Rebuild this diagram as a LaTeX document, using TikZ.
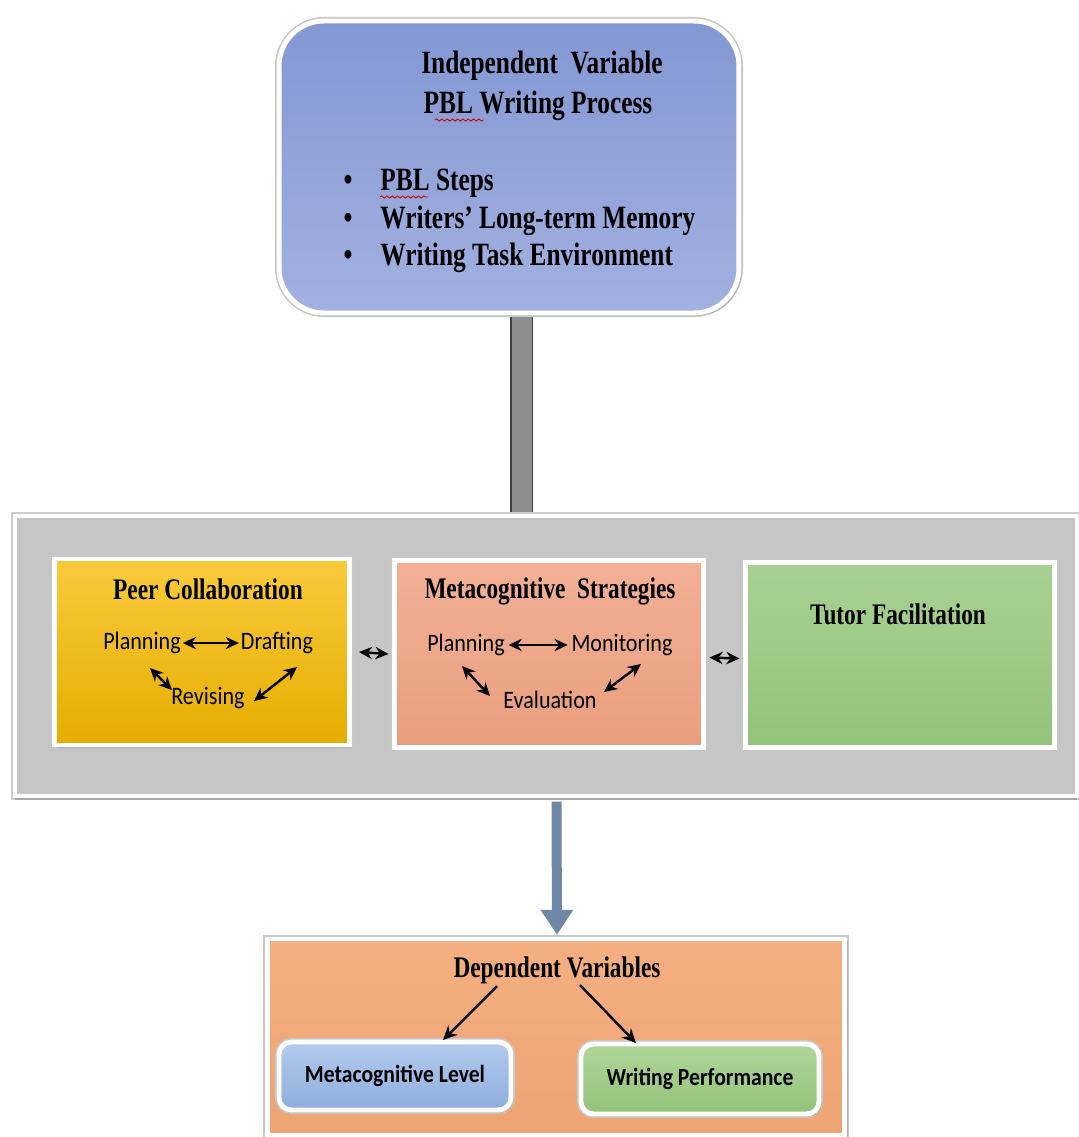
\documentclass[tikz,border=0pt]{standalone}
\usepackage{fontspec}
\setmainfont{Liberation Serif}
\newfontfamily\tfont{Liberation Serif}[FakeStretch=0.78]
\newfontfamily\cfont{Carlito}[FakeStretch=0.88]
\usetikzlibrary{shadows,arrows.meta,backgrounds,calc,decorations.pathmorphing}
\definecolor{topblueA}{HTML}{8497D3}
\definecolor{topblueB}{HTML}{A2B1E0}
\definecolor{panelgray}{HTML}{C6C6C6}
\definecolor{yelA}{HTML}{F9CB3D}
\definecolor{yelB}{HTML}{E6AD00}
\definecolor{salA}{HTML}{F2B095}
\definecolor{salB}{HTML}{E99E7E}
\definecolor{grnA}{HTML}{A8D191}
\definecolor{grnB}{HTML}{94C27B}
\definecolor{orgA}{HTML}{F4AF82}
\definecolor{orgB}{HTML}{EEA473}
\definecolor{mlA}{HTML}{B3CBEE}
\definecolor{mlB}{HTML}{8DAEDC}
\definecolor{wpA}{HTML}{B0D699}
\definecolor{wpB}{HTML}{93C27A}
\definecolor{barfill}{HTML}{8E8E8E}
\definecolor{arrowblue}{HTML}{6F86A6}
\tikzset{
  framed/.style={draw=white, line width=2.8pt,
    preaction={draw=black!22, line width=4.6pt},
    drop shadow={opacity=0.3, shadow xshift=1.5pt, shadow yshift=-1.5pt}},
  titletxt/.style={font=\tfont\bfseries\fontsize{17}{19}\selectfont, inner sep=0pt},
  toptxt/.style={font=\tfont\bfseries\fontsize{18.5}{21}\selectfont, inner sep=0pt},
  lbltxt/.style={font=\cfont\fontsize{14.3}{16}\selectfont, inner sep=0pt},
  boldlbl/.style={font=\cfont\bfseries\fontsize{14}{16}\selectfont, inner sep=0pt},
  dbl/.style={{Stealth[length=7.5pt,width=7pt]}-{Stealth[length=7.5pt,width=7pt]}, line width=1.4pt, black},
  sgl/.style={-{Stealth[length=8pt,width=7.5pt]}, line width=1.4pt, black},
  squig/.style={red!80!black, line width=0.5pt, decorate, decoration={snake, amplitude=0.6pt, segment length=3pt}}
}
\begin{document}
\begin{tikzpicture}[x=0.02cm,y=-0.02cm]
\useasboundingbox (0,0) rectangle (1079,1137);
\begin{scope}[on background layer]
\fill[white] (0,0) rectangle (1079,1137);
\end{scope}

% top box
\node[framed, rounded corners=0.9cm, top color=topblueA, bottom color=topblueB,
      minimum width=9.2cm, minimum height=5.84cm] (iv) at (509,167) {};
\node[toptxt] (ivt1) at (542,66) {Independent\ \ Variable};
\node[toptxt] (ivt2) at (538,106) {PBL Writing Process};
\node[toptxt] (b1) at (348,183) {\textbullet};
\node[toptxt] (b2) at (348,221) {\textbullet};
\node[toptxt] (b3) at (348,258) {\textbullet};
\node[toptxt, anchor=west] (i1) at (380,183) {PBL Steps};
\node[toptxt, anchor=west] (i2) at (380,221) {Writers’\ Long-term Memory};
\node[toptxt, anchor=west] (i3) at (380,258) {Writing Task Environment};
\draw[squig] (435,120) -- (484,120);
\draw[squig] (380,197) -- (428,197);

% middle panel
\node[draw=white, line width=2.5pt, fill=panelgray,
      preaction={draw=black!20, line width=4.2pt},
      drop shadow={opacity=0.45, shadow xshift=0pt, shadow yshift=-2.5pt},
      minimum width=21.24cm, minimum height=5.6cm] (panel) at (546,656) {};

% connector bar (behind)
\begin{scope}[on background layer]
\draw[fill=barfill, draw=black!75, line width=1.1pt]
  ([xshift=0.04cm]iv.south) rectangle ([xshift=-0.27cm]panel.north);
\end{scope}

% three boxes
\node[framed, top color=yelA, bottom color=yelB, minimum width=5.9cm, minimum height=3.72cm] (pc) at (202,652) {};
\node[framed, top color=salA, bottom color=salB, minimum width=6.18cm, minimum height=3.74cm] (ms) at (549,654) {};
\node[framed, top color=grnA, bottom color=grnB, minimum width=6.18cm, minimum height=3.7cm] (tf) at (900,655) {};

\node[titletxt] (pct) at (208,589) {Peer Collaboration};
\node[titletxt] (mst) at (550,591) {Metacognitive\ \ Strategies};
\node[titletxt] (tft) at (898,614) {Tutor Facilitation};

\node[lbltxt] (p1) at (142,643) {Planning};
\node[lbltxt] (d1) at (277,643) {Drafting};
\node[lbltxt] (r1) at (208,698) {Revising};
\node[lbltxt] (p2) at (466,645) {Planning};
\node[lbltxt] (m2) at (622,645) {Monitoring};
\node[lbltxt] (e2) at (550,700) {Evaluation};

\draw[dbl] ([xshift=1pt]p1.east) -- ([xshift=-1pt]d1.west);
\draw[dbl] ($(p1)+(8,25)$) -- ($(r1)+(-36,-8)$);
\draw[dbl] ($(d1)+(20,24)$) -- ($(r1)+(46,3)$);
\draw[dbl] ([xshift=2pt]p2.east) -- ([xshift=-2pt]m2.west);
\draw[dbl] ($(p2)+(-4,21)$) -- ($(e2)+(-60,-4)$);
\draw[dbl] ($(m2)+(19,19)$) -- ($(e2)+(54,-8)$);

\draw[dbl] ([xshift=4pt]pc.east) -- ([xshift=-2pt]ms.west);
\draw[dbl] ([xshift=2pt,yshift=-2pt]ms.east) -- ([xshift=-2pt,yshift=-2pt]tf.west);

% bottom box
\node[framed, top color=orgA, bottom color=orgB, minimum width=11.56cm, minimum height=3.92cm] (dv) at (556,1037) {};
\node[titletxt] (dvt) at (557,970) {Dependent Variables};
\node[framed, rounded corners=0.25cm, top color=mlA, bottom color=mlB,
      minimum width=4.64cm, minimum height=1.36cm] (ml) at (395,1076) {};
\node[framed, rounded corners=0.25cm, top color=wpA, bottom color=wpB,
      minimum width=4.76cm, minimum height=1.4cm] (wp) at (700,1079) {};
\node[boldlbl] (mlt) at (ml) {Metacognitive Level};
\node[boldlbl] (wpt) at (wp) {Writing Performance};
\draw[sgl] ($(dvt)+(-60,16)$) -- ($(ml)+(48,-36)$);
\draw[sgl] ($(dvt)+(23,15)$) -- ($(wp)+(-64,-36)$);

% down arrow
\draw[-{Triangle[width=0.62cm,length=0.5cm]}, line width=0.2cm, arrowblue]
  ([xshift=0.21cm, yshift=-2pt]panel.south) -- ([xshift=0.02cm, yshift=1pt]dv.north);
\end{tikzpicture}
\end{document}
